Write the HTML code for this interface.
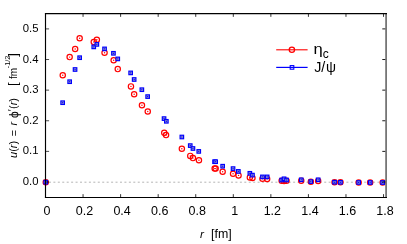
<!DOCTYPE html>
<html><head><meta charset="utf-8"><title>plot</title>
<style>
html,body{margin:0;padding:0;background:#fff;}
body{width:407px;height:244px;overflow:hidden;}
svg{display:block;will-change:transform;}
text{font-family:"Liberation Sans",sans-serif;fill:#000;}
.i{font-style:italic;}
</style></head><body>
<svg width="407" height="244" viewBox="0 0 407 244">
<rect x="0" y="0" width="407" height="244" fill="#fff"/>
<line x1="48.94" y1="182.2" x2="384.3" y2="182.2" stroke="#b4b4b4" stroke-width="1" stroke-dasharray="2 2.44"/>
<circle cx="45.75" cy="182.2" r="2.65" fill="none" stroke="#f00" stroke-width="1.2"/><circle cx="45.75" cy="182.2" r="0.7" fill="#f00"/>
<circle cx="62.75" cy="75.2" r="2.65" fill="none" stroke="#f00" stroke-width="1.2"/><circle cx="62.75" cy="75.2" r="0.7" fill="#f00"/>
<circle cx="69.65" cy="57.1" r="2.65" fill="none" stroke="#f00" stroke-width="1.2"/><circle cx="69.65" cy="57.1" r="0.7" fill="#f00"/>
<circle cx="75.15" cy="49.0" r="2.65" fill="none" stroke="#f00" stroke-width="1.2"/><circle cx="75.15" cy="49.0" r="0.7" fill="#f00"/>
<circle cx="79.65" cy="38.2" r="2.65" fill="none" stroke="#f00" stroke-width="1.2"/><circle cx="79.65" cy="38.2" r="0.7" fill="#f00"/>
<circle cx="93.75" cy="42.0" r="2.65" fill="none" stroke="#f00" stroke-width="1.2"/><circle cx="93.75" cy="42.0" r="0.7" fill="#f00"/>
<circle cx="96.85" cy="39.8" r="2.65" fill="none" stroke="#f00" stroke-width="1.2"/><circle cx="96.85" cy="39.8" r="0.7" fill="#f00"/>
<circle cx="104.55" cy="52.8" r="2.65" fill="none" stroke="#f00" stroke-width="1.2"/><circle cx="104.55" cy="52.8" r="0.7" fill="#f00"/>
<circle cx="113.65" cy="60.2" r="2.65" fill="none" stroke="#f00" stroke-width="1.2"/><circle cx="113.65" cy="60.2" r="0.7" fill="#f00"/>
<circle cx="117.75" cy="69.1" r="2.65" fill="none" stroke="#f00" stroke-width="1.2"/><circle cx="117.75" cy="69.1" r="0.7" fill="#f00"/>
<circle cx="130.95" cy="86.4" r="2.65" fill="none" stroke="#f00" stroke-width="1.2"/><circle cx="130.95" cy="86.4" r="0.7" fill="#f00"/>
<circle cx="134.15" cy="94.2" r="2.65" fill="none" stroke="#f00" stroke-width="1.2"/><circle cx="134.15" cy="94.2" r="0.7" fill="#f00"/>
<circle cx="141.95" cy="105.2" r="2.65" fill="none" stroke="#f00" stroke-width="1.2"/><circle cx="141.95" cy="105.2" r="0.7" fill="#f00"/>
<circle cx="147.75" cy="111.5" r="2.65" fill="none" stroke="#f00" stroke-width="1.2"/><circle cx="147.75" cy="111.5" r="0.7" fill="#f00"/>
<circle cx="164.25" cy="132.7" r="2.65" fill="none" stroke="#f00" stroke-width="1.2"/><circle cx="164.25" cy="132.7" r="0.7" fill="#f00"/>
<circle cx="166.05" cy="135.1" r="2.65" fill="none" stroke="#f00" stroke-width="1.2"/><circle cx="166.05" cy="135.1" r="0.7" fill="#f00"/>
<circle cx="181.85" cy="148.8" r="2.65" fill="none" stroke="#f00" stroke-width="1.2"/><circle cx="181.85" cy="148.8" r="0.7" fill="#f00"/>
<circle cx="190.25" cy="155.9" r="2.65" fill="none" stroke="#f00" stroke-width="1.2"/><circle cx="190.25" cy="155.9" r="0.7" fill="#f00"/>
<circle cx="192.95" cy="158.1" r="2.65" fill="none" stroke="#f00" stroke-width="1.2"/><circle cx="192.95" cy="158.1" r="0.7" fill="#f00"/>
<circle cx="198.95" cy="160.3" r="2.65" fill="none" stroke="#f00" stroke-width="1.2"/><circle cx="198.95" cy="160.3" r="0.7" fill="#f00"/>
<circle cx="214.65" cy="168.6" r="2.65" fill="none" stroke="#f00" stroke-width="1.2"/><circle cx="214.65" cy="168.6" r="0.7" fill="#f00"/>
<circle cx="215.65" cy="168.6" r="2.65" fill="none" stroke="#f00" stroke-width="1.2"/><circle cx="215.65" cy="168.6" r="0.7" fill="#f00"/>
<circle cx="222.65" cy="171.7" r="2.65" fill="none" stroke="#f00" stroke-width="1.2"/><circle cx="222.65" cy="171.7" r="0.7" fill="#f00"/>
<circle cx="233.05" cy="173.7" r="2.65" fill="none" stroke="#f00" stroke-width="1.2"/><circle cx="233.05" cy="173.7" r="0.7" fill="#f00"/>
<circle cx="238.55" cy="175.4" r="2.65" fill="none" stroke="#f00" stroke-width="1.2"/><circle cx="238.55" cy="175.4" r="0.7" fill="#f00"/>
<circle cx="249.85" cy="177.4" r="2.65" fill="none" stroke="#f00" stroke-width="1.2"/><circle cx="249.85" cy="177.4" r="0.7" fill="#f00"/>
<circle cx="252.45" cy="178.0" r="2.65" fill="none" stroke="#f00" stroke-width="1.2"/><circle cx="252.45" cy="178.0" r="0.7" fill="#f00"/>
<circle cx="262.45" cy="178.7" r="2.65" fill="none" stroke="#f00" stroke-width="1.2"/><circle cx="262.45" cy="178.7" r="0.7" fill="#f00"/>
<circle cx="267.15" cy="178.9" r="2.65" fill="none" stroke="#f00" stroke-width="1.2"/><circle cx="267.15" cy="178.9" r="0.7" fill="#f00"/>
<circle cx="281.65" cy="180.7" r="2.65" fill="none" stroke="#f00" stroke-width="1.2"/><circle cx="281.65" cy="180.7" r="0.7" fill="#f00"/>
<circle cx="284.05" cy="180.9" r="2.65" fill="none" stroke="#f00" stroke-width="1.2"/><circle cx="284.05" cy="180.9" r="0.7" fill="#f00"/>
<circle cx="286.55" cy="180.7" r="2.65" fill="none" stroke="#f00" stroke-width="1.2"/><circle cx="286.55" cy="180.7" r="0.7" fill="#f00"/>
<circle cx="301.25" cy="180.7" r="2.65" fill="none" stroke="#f00" stroke-width="1.2"/><circle cx="301.25" cy="180.7" r="0.7" fill="#f00"/>
<circle cx="310.85" cy="181.8" r="2.65" fill="none" stroke="#f00" stroke-width="1.2"/><circle cx="310.85" cy="181.8" r="0.7" fill="#f00"/>
<circle cx="318.15" cy="181.0" r="2.65" fill="none" stroke="#f00" stroke-width="1.2"/><circle cx="318.15" cy="181.0" r="0.7" fill="#f00"/>
<circle cx="334.55" cy="182.3" r="2.65" fill="none" stroke="#f00" stroke-width="1.2"/><circle cx="334.55" cy="182.3" r="0.7" fill="#f00"/>
<circle cx="340.45" cy="182.3" r="2.65" fill="none" stroke="#f00" stroke-width="1.2"/><circle cx="340.45" cy="182.3" r="0.7" fill="#f00"/>
<circle cx="358.65" cy="182.5" r="2.65" fill="none" stroke="#f00" stroke-width="1.2"/><circle cx="358.65" cy="182.5" r="0.7" fill="#f00"/>
<circle cx="370.15" cy="182.5" r="2.65" fill="none" stroke="#f00" stroke-width="1.2"/><circle cx="370.15" cy="182.5" r="0.7" fill="#f00"/>
<circle cx="382.65" cy="182.5" r="2.65" fill="none" stroke="#f00" stroke-width="1.2"/><circle cx="382.65" cy="182.5" r="0.7" fill="#f00"/>
<rect x="44.00" y="180.45" width="3.5" height="3.5" fill="#aab" stroke="#00f" stroke-width="1.2"/><rect x="45.15" y="181.60" width="1.2" height="1.2" fill="#00f"/>
<rect x="60.90" y="100.95" width="3.5" height="3.5" fill="#aab" stroke="#00f" stroke-width="1.2"/><rect x="62.05" y="102.10" width="1.2" height="1.2" fill="#00f"/>
<rect x="67.90" y="79.95" width="3.5" height="3.5" fill="#aab" stroke="#00f" stroke-width="1.2"/><rect x="69.05" y="81.10" width="1.2" height="1.2" fill="#00f"/>
<rect x="73.30" y="67.75" width="3.5" height="3.5" fill="#aab" stroke="#00f" stroke-width="1.2"/><rect x="74.45" y="68.90" width="1.2" height="1.2" fill="#00f"/>
<rect x="77.90" y="55.95" width="3.5" height="3.5" fill="#aab" stroke="#00f" stroke-width="1.2"/><rect x="79.05" y="57.10" width="1.2" height="1.2" fill="#00f"/>
<rect x="92.00" y="45.15" width="3.5" height="3.5" fill="#aab" stroke="#00f" stroke-width="1.2"/><rect x="93.15" y="46.30" width="1.2" height="1.2" fill="#00f"/>
<rect x="95.10" y="42.65" width="3.5" height="3.5" fill="#aab" stroke="#00f" stroke-width="1.2"/><rect x="96.25" y="43.80" width="1.2" height="1.2" fill="#00f"/>
<rect x="102.80" y="47.15" width="3.5" height="3.5" fill="#aab" stroke="#00f" stroke-width="1.2"/><rect x="103.95" y="48.30" width="1.2" height="1.2" fill="#00f"/>
<rect x="111.70" y="51.55" width="3.5" height="3.5" fill="#aab" stroke="#00f" stroke-width="1.2"/><rect x="112.85" y="52.70" width="1.2" height="1.2" fill="#00f"/>
<rect x="116.00" y="57.15" width="3.5" height="3.5" fill="#aab" stroke="#00f" stroke-width="1.2"/><rect x="117.15" y="58.30" width="1.2" height="1.2" fill="#00f"/>
<rect x="128.90" y="71.15" width="3.5" height="3.5" fill="#aab" stroke="#00f" stroke-width="1.2"/><rect x="130.05" y="72.30" width="1.2" height="1.2" fill="#00f"/>
<rect x="132.40" y="77.75" width="3.5" height="3.5" fill="#aab" stroke="#00f" stroke-width="1.2"/><rect x="133.55" y="78.90" width="1.2" height="1.2" fill="#00f"/>
<rect x="140.10" y="87.95" width="3.5" height="3.5" fill="#aab" stroke="#00f" stroke-width="1.2"/><rect x="141.25" y="89.10" width="1.2" height="1.2" fill="#00f"/>
<rect x="145.90" y="94.85" width="3.5" height="3.5" fill="#aab" stroke="#00f" stroke-width="1.2"/><rect x="147.05" y="96.00" width="1.2" height="1.2" fill="#00f"/>
<rect x="162.30" y="116.85" width="3.5" height="3.5" fill="#aab" stroke="#00f" stroke-width="1.2"/><rect x="163.45" y="118.00" width="1.2" height="1.2" fill="#00f"/>
<rect x="164.60" y="119.55" width="3.5" height="3.5" fill="#aab" stroke="#00f" stroke-width="1.2"/><rect x="165.75" y="120.70" width="1.2" height="1.2" fill="#00f"/>
<rect x="180.10" y="135.25" width="3.5" height="3.5" fill="#aab" stroke="#00f" stroke-width="1.2"/><rect x="181.25" y="136.40" width="1.2" height="1.2" fill="#00f"/>
<rect x="188.50" y="143.85" width="3.5" height="3.5" fill="#aab" stroke="#00f" stroke-width="1.2"/><rect x="189.65" y="145.00" width="1.2" height="1.2" fill="#00f"/>
<rect x="191.20" y="146.75" width="3.5" height="3.5" fill="#aab" stroke="#00f" stroke-width="1.2"/><rect x="192.35" y="147.90" width="1.2" height="1.2" fill="#00f"/>
<rect x="197.00" y="149.65" width="3.5" height="3.5" fill="#aab" stroke="#00f" stroke-width="1.2"/><rect x="198.15" y="150.80" width="1.2" height="1.2" fill="#00f"/>
<rect x="212.80" y="159.95" width="3.5" height="3.5" fill="#aab" stroke="#00f" stroke-width="1.2"/><rect x="213.95" y="161.10" width="1.2" height="1.2" fill="#00f"/>
<rect x="213.90" y="159.95" width="3.5" height="3.5" fill="#aab" stroke="#00f" stroke-width="1.2"/><rect x="215.05" y="161.10" width="1.2" height="1.2" fill="#00f"/>
<rect x="220.90" y="164.45" width="3.5" height="3.5" fill="#aab" stroke="#00f" stroke-width="1.2"/><rect x="222.05" y="165.60" width="1.2" height="1.2" fill="#00f"/>
<rect x="231.30" y="166.85" width="3.5" height="3.5" fill="#aab" stroke="#00f" stroke-width="1.2"/><rect x="232.45" y="168.00" width="1.2" height="1.2" fill="#00f"/>
<rect x="236.60" y="169.65" width="3.5" height="3.5" fill="#aab" stroke="#00f" stroke-width="1.2"/><rect x="237.75" y="170.80" width="1.2" height="1.2" fill="#00f"/>
<rect x="248.10" y="171.55" width="3.5" height="3.5" fill="#aab" stroke="#00f" stroke-width="1.2"/><rect x="249.25" y="172.70" width="1.2" height="1.2" fill="#00f"/>
<rect x="250.70" y="173.35" width="3.5" height="3.5" fill="#aab" stroke="#00f" stroke-width="1.2"/><rect x="251.85" y="174.50" width="1.2" height="1.2" fill="#00f"/>
<rect x="260.70" y="175.15" width="3.5" height="3.5" fill="#aab" stroke="#00f" stroke-width="1.2"/><rect x="261.85" y="176.30" width="1.2" height="1.2" fill="#00f"/>
<rect x="265.40" y="175.15" width="3.5" height="3.5" fill="#aab" stroke="#00f" stroke-width="1.2"/><rect x="266.55" y="176.30" width="1.2" height="1.2" fill="#00f"/>
<rect x="279.90" y="178.25" width="3.5" height="3.5" fill="#aab" stroke="#00f" stroke-width="1.2"/><rect x="281.05" y="179.40" width="1.2" height="1.2" fill="#00f"/>
<rect x="282.30" y="177.05" width="3.5" height="3.5" fill="#aab" stroke="#00f" stroke-width="1.2"/><rect x="283.45" y="178.20" width="1.2" height="1.2" fill="#00f"/>
<rect x="284.80" y="178.25" width="3.5" height="3.5" fill="#aab" stroke="#00f" stroke-width="1.2"/><rect x="285.95" y="179.40" width="1.2" height="1.2" fill="#00f"/>
<rect x="299.50" y="178.05" width="3.5" height="3.5" fill="#aab" stroke="#00f" stroke-width="1.2"/><rect x="300.65" y="179.20" width="1.2" height="1.2" fill="#00f"/>
<rect x="309.10" y="179.85" width="3.5" height="3.5" fill="#aab" stroke="#00f" stroke-width="1.2"/><rect x="310.25" y="181.00" width="1.2" height="1.2" fill="#00f"/>
<rect x="316.40" y="178.05" width="3.5" height="3.5" fill="#aab" stroke="#00f" stroke-width="1.2"/><rect x="317.55" y="179.20" width="1.2" height="1.2" fill="#00f"/>
<rect x="332.80" y="180.45" width="3.5" height="3.5" fill="#aab" stroke="#00f" stroke-width="1.2"/><rect x="333.95" y="181.60" width="1.2" height="1.2" fill="#00f"/>
<rect x="338.70" y="180.55" width="3.5" height="3.5" fill="#aab" stroke="#00f" stroke-width="1.2"/><rect x="339.85" y="181.70" width="1.2" height="1.2" fill="#00f"/>
<rect x="356.90" y="180.75" width="3.5" height="3.5" fill="#aab" stroke="#00f" stroke-width="1.2"/><rect x="358.05" y="181.90" width="1.2" height="1.2" fill="#00f"/>
<rect x="368.40" y="180.75" width="3.5" height="3.5" fill="#aab" stroke="#00f" stroke-width="1.2"/><rect x="369.55" y="181.90" width="1.2" height="1.2" fill="#00f"/>
<rect x="380.90" y="180.75" width="3.5" height="3.5" fill="#aab" stroke="#00f" stroke-width="1.2"/><rect x="382.05" y="181.90" width="1.2" height="1.2" fill="#00f"/>
<line x1="386.1" y1="13.0" x2="386.1" y2="198.0" stroke="#767676" stroke-width="1.8"/>
<line x1="45.5" y1="13.0" x2="45.5" y2="198.0" stroke="#000" stroke-width="1.15"/>
<line x1="44.95" y1="13.55" x2="387" y2="13.55" stroke="#000" stroke-width="1.15"/>
<line x1="44.95" y1="197.45" x2="387" y2="197.45" stroke="#000" stroke-width="1.15"/>
<text x="47.00" y="215.1" font-size="12.5" text-anchor="middle">0</text>
<line x1="83.06" y1="197.45" x2="83.06" y2="194.14999999999998" stroke="#000" stroke-width="0.8"/>
<line x1="83.06" y1="13.55" x2="83.06" y2="16.85" stroke="#000" stroke-width="0.8"/>
<text x="84.56" y="215.1" font-size="12.5" text-anchor="middle">0.2</text>
<line x1="120.62" y1="197.45" x2="120.62" y2="194.14999999999998" stroke="#000" stroke-width="0.8"/>
<line x1="120.62" y1="13.55" x2="120.62" y2="16.85" stroke="#000" stroke-width="0.8"/>
<text x="122.12" y="215.1" font-size="12.5" text-anchor="middle">0.4</text>
<line x1="158.18" y1="197.45" x2="158.18" y2="194.14999999999998" stroke="#000" stroke-width="0.8"/>
<line x1="158.18" y1="13.55" x2="158.18" y2="16.85" stroke="#000" stroke-width="0.8"/>
<text x="159.68" y="215.1" font-size="12.5" text-anchor="middle">0.6</text>
<line x1="195.74" y1="197.45" x2="195.74" y2="194.14999999999998" stroke="#000" stroke-width="0.8"/>
<line x1="195.74" y1="13.55" x2="195.74" y2="16.85" stroke="#000" stroke-width="0.8"/>
<text x="197.24" y="215.1" font-size="12.5" text-anchor="middle">0.8</text>
<line x1="233.30" y1="197.45" x2="233.30" y2="194.14999999999998" stroke="#000" stroke-width="0.8"/>
<line x1="233.30" y1="13.55" x2="233.30" y2="16.85" stroke="#000" stroke-width="0.8"/>
<text x="234.80" y="215.1" font-size="12.5" text-anchor="middle">1</text>
<line x1="270.86" y1="197.45" x2="270.86" y2="194.14999999999998" stroke="#000" stroke-width="0.8"/>
<line x1="270.86" y1="13.55" x2="270.86" y2="16.85" stroke="#000" stroke-width="0.8"/>
<text x="272.36" y="215.1" font-size="12.5" text-anchor="middle">1.2</text>
<line x1="308.42" y1="197.45" x2="308.42" y2="194.14999999999998" stroke="#000" stroke-width="0.8"/>
<line x1="308.42" y1="13.55" x2="308.42" y2="16.85" stroke="#000" stroke-width="0.8"/>
<text x="309.92" y="215.1" font-size="12.5" text-anchor="middle">1.4</text>
<line x1="345.98" y1="197.45" x2="345.98" y2="194.14999999999998" stroke="#000" stroke-width="0.8"/>
<line x1="345.98" y1="13.55" x2="345.98" y2="16.85" stroke="#000" stroke-width="0.8"/>
<text x="347.48" y="215.1" font-size="12.5" text-anchor="middle">1.6</text>
<line x1="383.54" y1="197.45" x2="383.54" y2="194.14999999999998" stroke="#000" stroke-width="0.8"/>
<line x1="383.54" y1="13.55" x2="383.54" y2="16.85" stroke="#000" stroke-width="0.8"/>
<text x="385.04" y="215.1" font-size="12.5" text-anchor="middle">1.8</text>
<line x1="45.5" y1="182.00" x2="49.1" y2="182.00" stroke="#000" stroke-width="0.7"/>
<line x1="385.3" y1="182.00" x2="382.3" y2="182.00" stroke="#000" stroke-width="0.9"/>
<text x="38.5" y="185.00" font-size="11.3" text-anchor="end">0.0</text>
<line x1="45.5" y1="151.38" x2="49.1" y2="151.38" stroke="#000" stroke-width="0.7"/>
<line x1="385.3" y1="151.38" x2="382.3" y2="151.38" stroke="#000" stroke-width="0.9"/>
<text x="38.5" y="154.38" font-size="11.3" text-anchor="end">0.1</text>
<line x1="45.5" y1="120.76" x2="49.1" y2="120.76" stroke="#000" stroke-width="0.7"/>
<line x1="385.3" y1="120.76" x2="382.3" y2="120.76" stroke="#000" stroke-width="0.9"/>
<text x="38.5" y="123.76" font-size="11.3" text-anchor="end">0.2</text>
<line x1="45.5" y1="90.14" x2="49.1" y2="90.14" stroke="#000" stroke-width="0.7"/>
<line x1="385.3" y1="90.14" x2="382.3" y2="90.14" stroke="#000" stroke-width="0.9"/>
<text x="38.5" y="93.14" font-size="11.3" text-anchor="end">0.3</text>
<line x1="45.5" y1="59.52" x2="49.1" y2="59.52" stroke="#000" stroke-width="0.7"/>
<line x1="385.3" y1="59.52" x2="382.3" y2="59.52" stroke="#000" stroke-width="0.9"/>
<text x="38.5" y="62.52" font-size="11.3" text-anchor="end">0.4</text>
<line x1="45.5" y1="28.90" x2="49.1" y2="28.90" stroke="#000" stroke-width="0.7"/>
<line x1="385.3" y1="28.90" x2="382.3" y2="28.90" stroke="#000" stroke-width="0.9"/>
<text x="38.5" y="31.90" font-size="11.3" text-anchor="end">0.5</text>
<line x1="276.2" y1="49.8" x2="307.6" y2="49.8" stroke="#f00" stroke-width="1.1"/>
<circle cx="291.9" cy="49.8" r="2.65" fill="none" stroke="#f00" stroke-width="1.3"/>
<line x1="276.2" y1="67.4" x2="307.6" y2="67.4" stroke="#00f" stroke-width="1.2"/>
<rect x="290.2" y="65.6" width="3.6" height="3.6" fill="none" stroke="#00f" stroke-width="1.1"/>
<g transform="translate(313.6,53.5) scale(1.23,1.02)"><text x="0" y="0" font-size="13.5">η</text></g>
<text x="322.7" y="57.6" font-size="12">c</text>
<text x="314.2" y="71.6" font-size="14.3">J/</text>
<text x="325.9" y="71.6" font-size="14">ψ</text>
<text x="199.9" y="237.5" font-size="11.8" class="i">r</text>
<text x="211.1" y="237.5" font-size="12.4">[fm]</text>
<g transform="translate(16.8,158) rotate(-90)"><text x="0.1" y="0" font-size="11" class="i">u</text><text x="6.2" y="0" font-size="11">(</text><text x="9.85" y="0" font-size="11" class="i">r</text><text x="13.5" y="0" font-size="11">)</text><text x="21.8" y="1.0" font-size="11">=</text><text x="32.6" y="0" font-size="11" class="i">r</text><g transform="translate(40.05,0.9) scale(1.07,1.09)"><text x="0" y="0" font-size="11.2">ϕ</text></g><text x="46.7" y="-0.9" font-size="11">′</text><text x="49.0" y="0" font-size="11">(</text><text x="52.65" y="0" font-size="11" class="i">r</text><text x="56.3" y="0" font-size="11">)</text><text x="71.9" y="0.6" font-size="13.4">[</text><text x="79.0" y="0" font-size="10">fm</text><text x="89.8" y="-6.7" font-size="7.2">-1/2</text><text x="101.3" y="0.6" font-size="13.4">]</text></g>
</svg></body></html>
